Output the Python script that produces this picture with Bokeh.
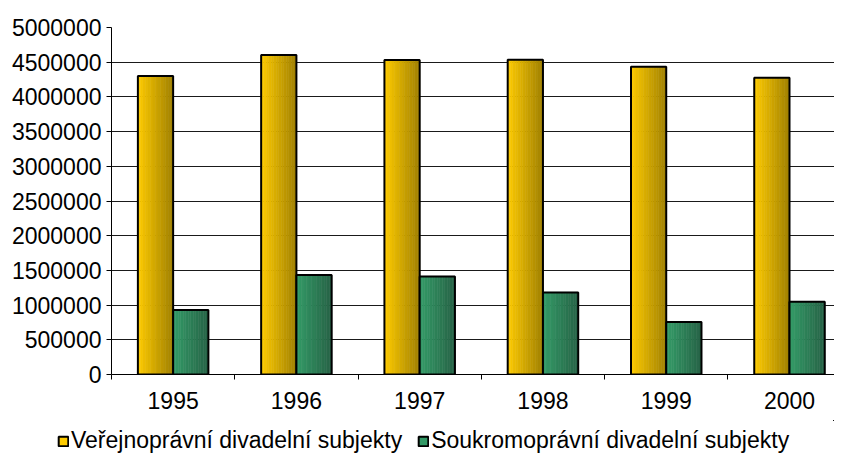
import numpy as np
from bokeh.plotting import figure
from bokeh.layouts import column
from bokeh.models import (Range1d, FixedTicker, Legend, LegendItem,
                          CustomJSTickFormatter, NumeralTickFormatter)
from bokeh.embed import file_html
from bokeh.resources import INLINE

years = ["1995", "1996", "1997", "1998", "1999", "2000"]
public = [4300000, 4603000, 4530000, 4536000, 4436000, 4277000]
private = [928000, 1432000, 1413000, 1183000, 756000, 1048000]
series_names = ["Veřejnoprávní divadelní subjekty", "Soukromoprávní divadelní subjekty"]
y_ticks = list(range(0, 5000001, 500000))

FONT = "Liberation Sans"
FS = "23px"

xc = np.arange(len(years)) + 0.5
bw = 0.286

p = figure(width=834, height=420, x_range=Range1d(0, 5.865), y_range=Range1d(0, 5000000),
           output_backend="svg", toolbar_location=None,
           min_border_left=111, min_border_right=0, min_border_top=27, min_border_bottom=46)
p.frame_align = False
p.outline_line_color = None
p.background_fill_color = "white"
p.border_fill_color = "white"

# grid
p.xgrid.visible = False
p.ygrid.grid_line_color = "#1a1a1a"
p.ygrid.grid_line_width = 1

# y axis
p.yaxis.ticker = FixedTicker(ticks=y_ticks, minor_ticks=[])
p.yaxis.formatter = NumeralTickFormatter(format="0")
p.yaxis.major_label_text_font = FONT
p.yaxis.major_label_text_font_size = FS
p.yaxis.major_label_text_color = "black"
p.yaxis.axis_line_color = "black"
p.yaxis.major_tick_line_color = "black"
p.yaxis.major_tick_out = 5
p.yaxis.major_tick_in = 0
p.yaxis.major_label_standoff = 5

# x axis
p.xaxis.ticker = FixedTicker(ticks=list(xc), minor_ticks=list(range(0, len(years) + 1)))
p.xaxis.formatter = CustomJSTickFormatter(args=dict(labels=years),
                                          code="return labels[Math.round(tick - 0.5)];")
p.xaxis.major_label_text_font = FONT
p.xaxis.major_label_text_font_size = FS
p.xaxis.major_label_text_color = "black"
p.xaxis.axis_line_color = "black"
p.xaxis.major_tick_line_color = None
p.xaxis.minor_tick_line_color = "black"
p.xaxis.minor_tick_out = 5
p.xaxis.minor_tick_in = 0
p.xaxis.major_label_standoff = 11


def hexc(rgb):
    return "#%02x%02x%02x" % tuple(int(round(v)) for v in rgb)


series = [
    (public, (255, 204, 0), (160, 128, 0), -1, "#ffcc00"),
    (private, (52, 156, 104), (38, 98, 70), 0, "#339966"),
]
N = 14
for (vals, c0, c1, side, base) in series:
    left = xc + side * bw
    sw = bw / N
    for k in range(N):
        t = (k + 0.5) / N
        col = hexc([a + (b - a) * t for a, b in zip(c0, c1)])
        p.vbar(x=left + (k + 0.5) * sw, width=sw, top=vals, bottom=0,
               fill_color=col, line_color=col, line_width=0.6)
    p.vbar(x=left + bw / 2, width=bw, top=vals, bottom=0, fill_color=None,
           line_color="black", line_width=2)

# legend strip (separate figure below the chart); its ranges keep the bars out of view
lg = figure(width=834, height=34, x_range=Range1d(-20, -19), y_range=Range1d(-2, -1),
            output_backend="svg", toolbar_location=None,
            x_axis_type=None, y_axis_type=None,
            min_border_left=0, min_border_right=0, min_border_top=0, min_border_bottom=0)
lg.frame_align = False
lg.outline_line_color = None
lg.xgrid.visible = False
lg.ygrid.visible = False
legend_items = []
for (vals, c0, c1, side, base), name in zip(series, series_names):
    r = lg.vbar(x=xc, top=vals, bottom=0, width=bw, fill_color=base,
                line_color="black", line_width=2)
    legend_items.append(LegendItem(label=name, renderers=[r]))

legend = Legend(items=legend_items, orientation="horizontal", location=(57, 0),
                padding=0, margin=0, spacing=15, label_standoff=2,
                glyph_width=12, glyph_height=12,
                label_text_font=FONT, label_text_font_size=FS, label_text_color="black",
                border_line_color=None, background_fill_alpha=0)
lg.add_layout(legend, "center")

layout = column(p, lg, spacing=0)
open("out.html", "w").write(file_html(layout, INLINE))
